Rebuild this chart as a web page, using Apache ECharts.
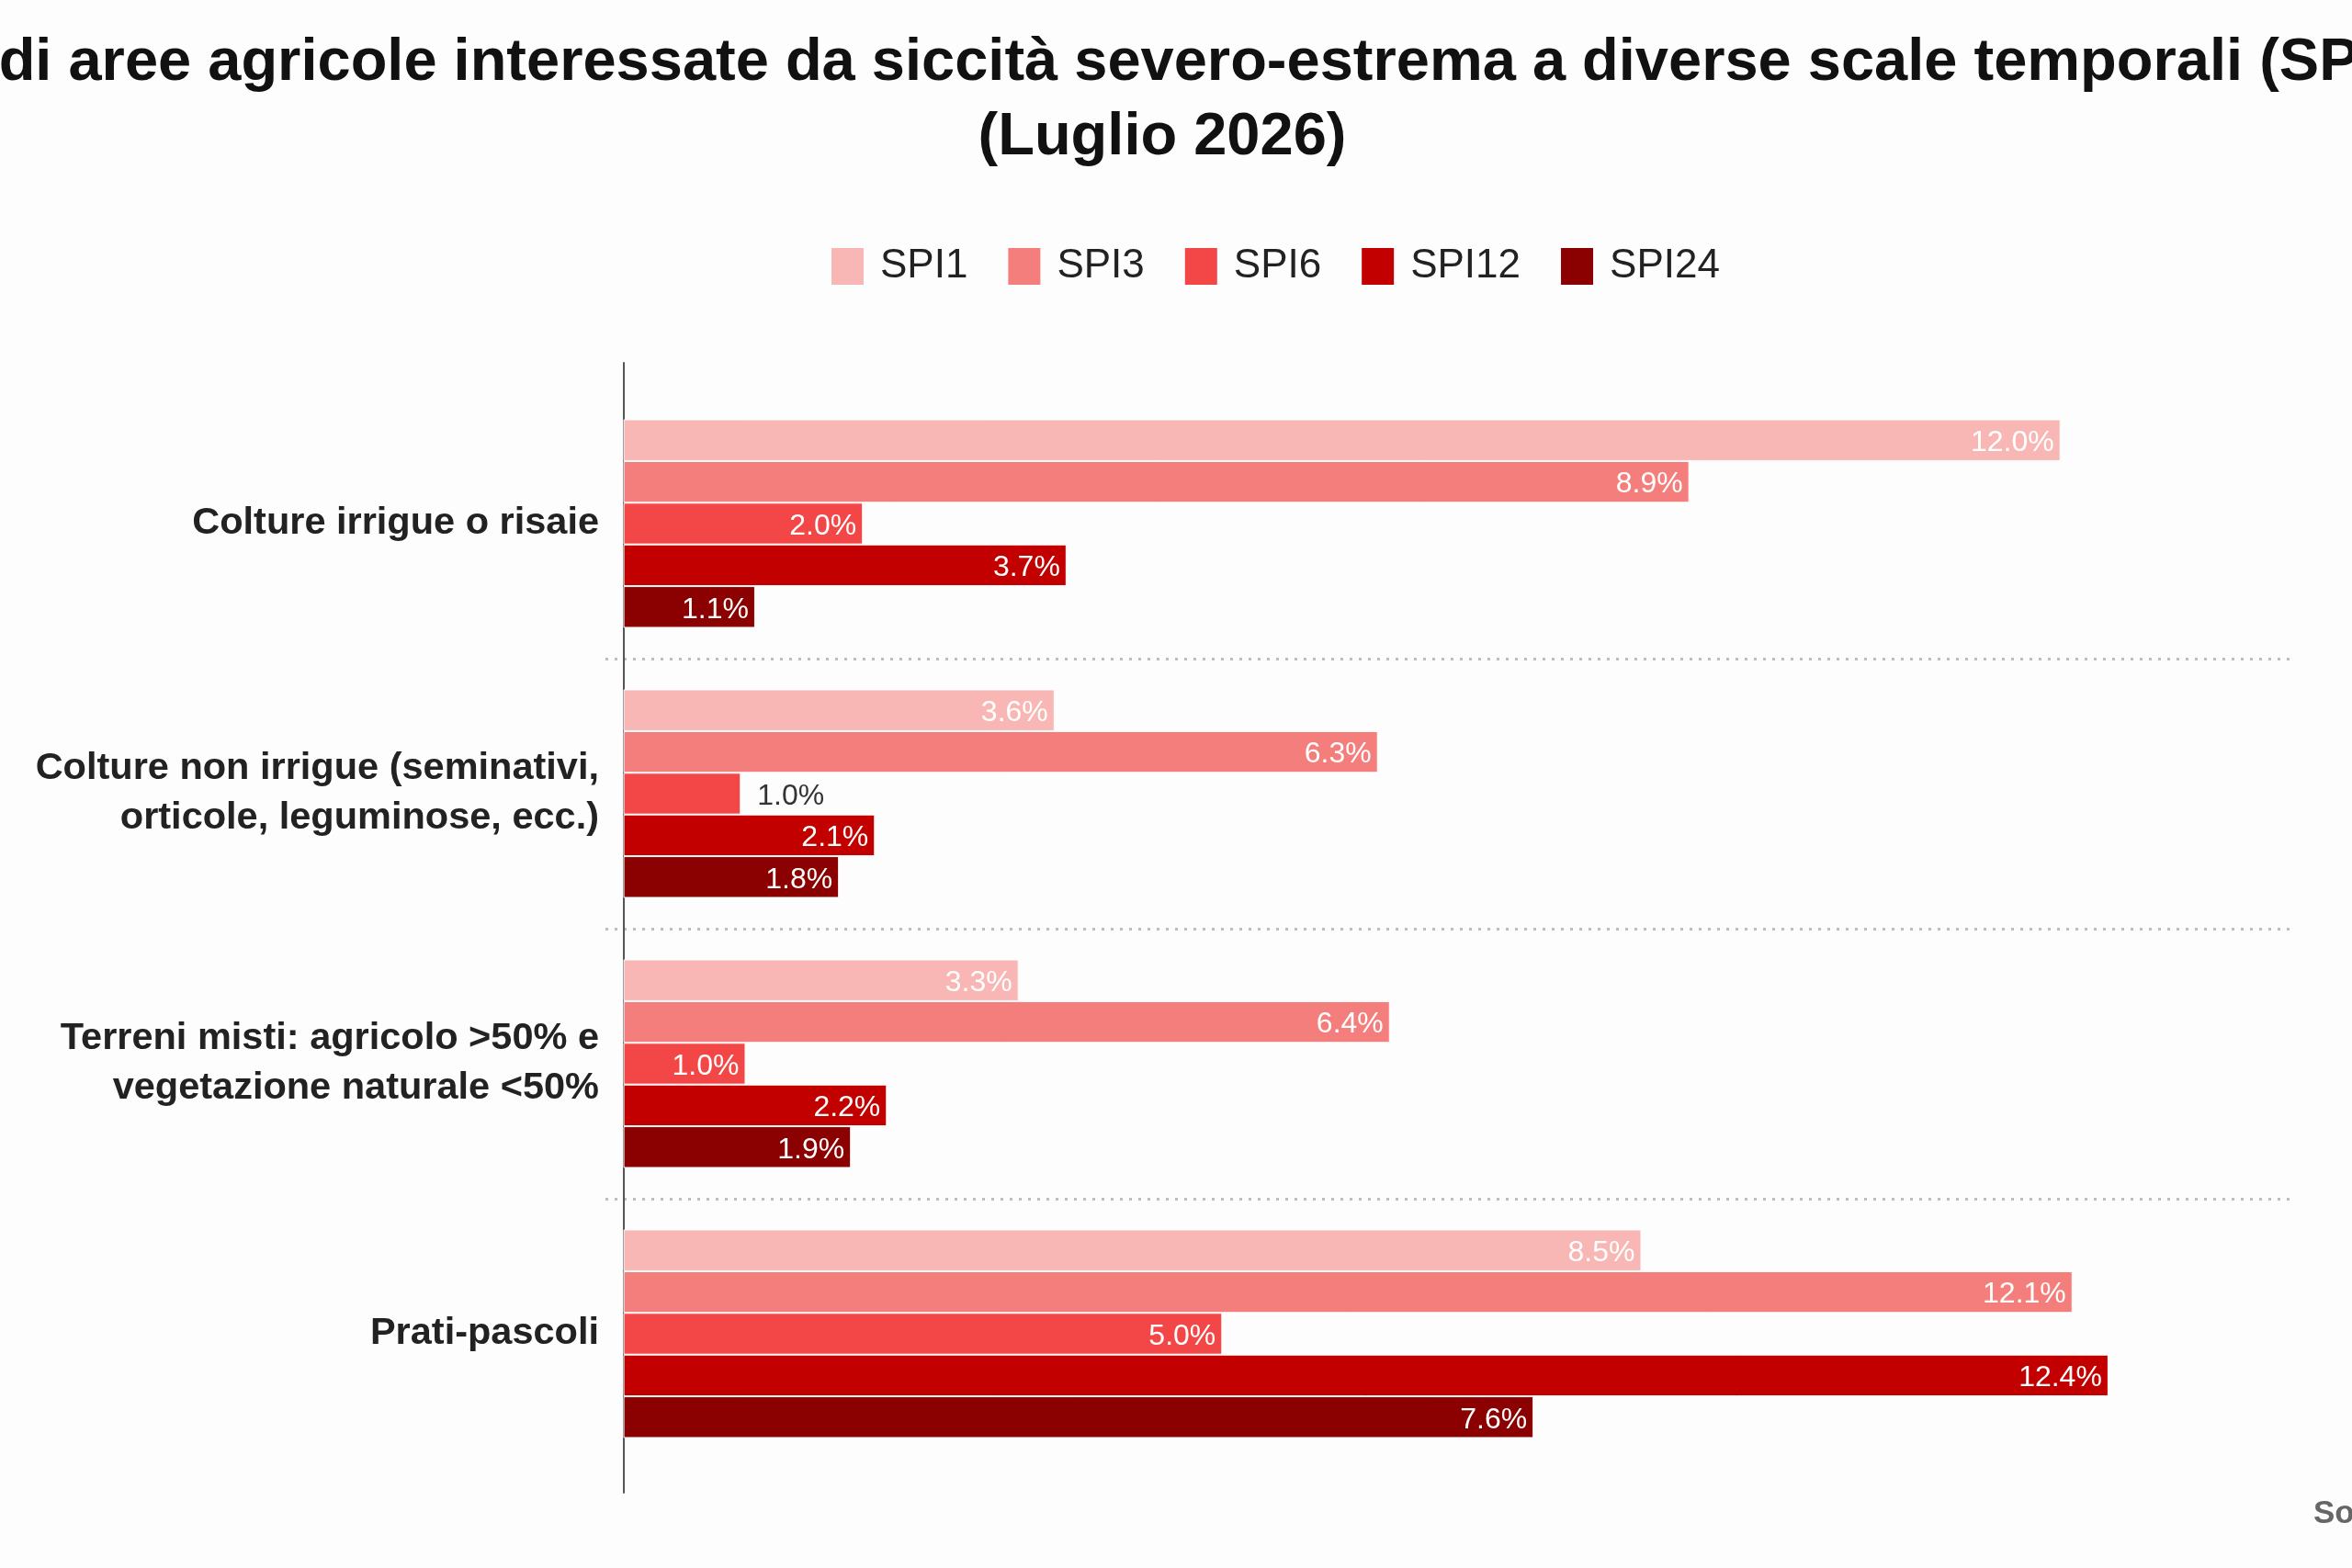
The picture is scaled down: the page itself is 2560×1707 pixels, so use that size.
<!DOCTYPE html>
<html>
<head>
<meta charset="utf-8">
<script src="https://cdn.jsdelivr.net/npm/echarts@6/dist/echarts.min.js"></script>
<style>
  html, body { margin: 0; padding: 0; background: #fdfdfd; }
  #chart { width: 2560px; height: 1707px; }
</style>
</head>
<body>
<div id="chart"></div>
<script>
/* Aree agricole in siccità severo-estrema per scala SPI */

const CATEGORIES = [
  "Colture irrigue o risaie",
  "Colture non irrigue (seminativi,\norticole, leguminose, ecc.)",
  "Terreni misti: agricolo >50% e\nvegetazione naturale <50%",
  "Prati-pascoli",
];
const SERIES_NAMES = ["SPI1", "SPI3", "SPI6", "SPI12", "SPI24"];

const SPI1 = [12.0, 3.6, 3.3, 8.5];
const SPI3 = [8.9, 6.3, 6.4, 12.1];
const SPI6 = [2.0, 0.98, 1.02, 5.0];
const SPI12 = [3.7, 2.1, 2.2, 12.4];
const SPI24 = [1.1, 1.8, 1.9, 7.6];

const COLORS = ["#F8B7B4", "#F47E7B", "#F34646", "#C30000", "#8B0000"];
const FONT = "'Liberation Sans', Arial, Helvetica, sans-serif";

const chart = echarts.init(document.getElementById("chart"), null, { renderer: "canvas" });

// valori sotto l'1% non stanno nella barra: etichetta fuori, scura
function barData(values) {
  return values.map(v => v < 1
    ? { value: v, label: { position: "right", distance: 18, color: "#333" } }
    : v);
}

const series = [SPI1, SPI3, SPI6, SPI12, SPI24].map((vals, i) => ({
  name: SERIES_NAMES[i],
  type: "bar",
  xAxisIndex: 0,
  yAxisIndex: 0,
  barGap: "0%",
  barCategoryGap: "22.8%",
  itemStyle: { color: COLORS[i], borderColor: "#fdfdfd", borderWidth: 1 },
  label: {
    show: true,
    position: "insideRight",
    distance: 7,
    offset: [0, 3],
    color: "#fff",
    fontFamily: FONT,
    fontSize: 32,
    formatter: p => p.value.toFixed(1) + "%",
  },
  emphasis: { disabled: true },
  data: barData(vals),
}));

chart.setOption({
  backgroundColor: "#fdfdfd",
  animation: false,
  title: [
    {
      text: "% di aree agricole interessate da siccità severo-estrema a diverse scale temporali (SPI)\n(Luglio 2026)",
      left: 1265,
      top: 29,
      padding: 0,
      textAlign: "center",
      textStyle: { fontFamily: FONT, fontSize: 65, fontWeight: "bold", color: "#111", lineHeight: 81 },
    },
    {
      text: "Source:",
      left: 2518,
      top: 1631,
      padding: 0,
      textStyle: { fontFamily: FONT, fontSize: 35, fontWeight: "bold", color: "#666" },
    },
  ],
  legend: {
    data: SERIES_NAMES,
    left: 903,
    top: 268,
    padding: 0,
    icon: "rect",
    itemWidth: 37,
    itemHeight: 42,
    itemGap: 42,
    selectedMode: false,
    textStyle: { fontFamily: FONT, fontSize: 44, color: "#222", padding: [0, 0, 0, 12] },
  },
  grid: [
    { left: 659, right: 67, top: 423, bottom: 108, containLabel: false },
    // solo per la linea verticale dell'asse, più lunga delle bande
    { left: 679, width: 10, top: 395, height: 1230, containLabel: false },
  ],
  xAxis: [
    { type: "value", gridIndex: 0, min: -0.15, max: 13.92, show: false },
    { type: "value", gridIndex: 1, show: false },
  ],
  yAxis: [
    {
      type: "category",
      gridIndex: 0,
      inverse: true,
      data: CATEGORIES,
      axisLine: { show: false, onZero: false },
      axisTick: { show: false },
      axisLabel: {
        margin: 7,
        fontFamily: FONT,
        fontSize: 41.5,
        fontWeight: "bold",
        color: "#222",
        lineHeight: 54,
        align: "right",
        padding: [12, 0, 0, 0],
      },
      splitLine: {
        show: true,
        showMinLine: false,
        showMaxLine: false,
        lineStyle: { color: "#bdbdbd", width: 3, type: [3, 7] },
      },
    },
    {
      type: "category",
      gridIndex: 1,
      data: [""],
      axisLine: { show: true, onZero: false, lineStyle: { color: "#555", width: 2 } },
      axisTick: { show: false },
      axisLabel: { show: false },
      splitLine: { show: false },
    },
  ],
  series,
});
</script>
</body>
</html>
